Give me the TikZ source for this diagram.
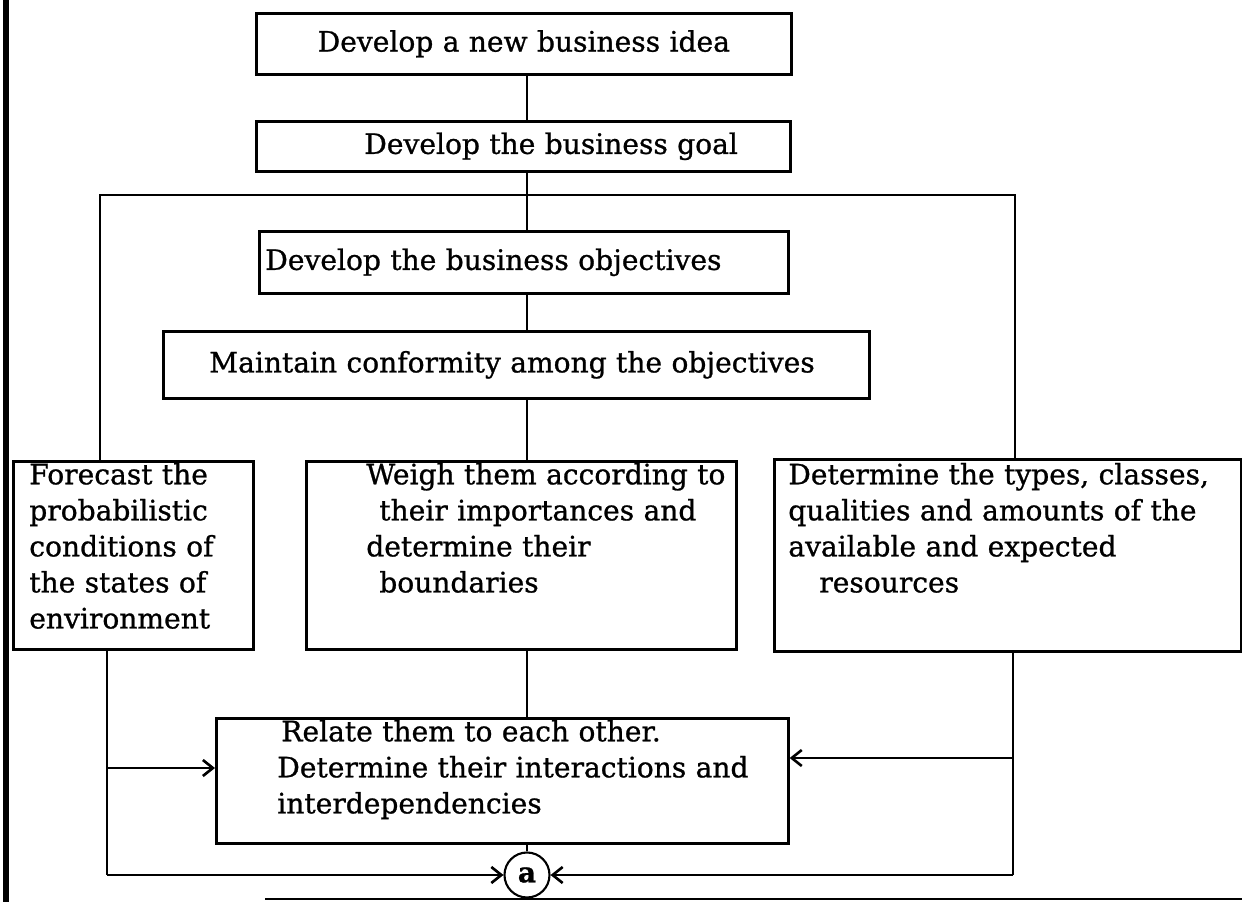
\documentclass[tikz,border=0pt]{standalone}
\usepackage{fontspec}
\setmainfont[FakeBold=0.9]{DejaVu Serif}
\usepackage{tikz}
\usetikzlibrary{arrows.meta}

\newcommand{\ind}[1]{\hspace*{#1}}

\begin{document}
\begin{tikzpicture}[
    box/.style={rectangle, draw, line width=1.5pt, anchor=north west, align=left,
                inner xsep=0.12cm, inner ysep=0.1cm, font=\fontsize{16pt}{20.5pt}\selectfont},
    tallbox/.style={box, text height=0.36cm},
    arr/.style={-{Straight Barb[length=2mm, width=3.2mm]}, line width=1.5pt},
    wire/.style={line width=1.5pt}
  ]
    \useasboundingbox (0,0) rectangle (24.84,-18.04);

    \node[box, minimum width=10.7cm, minimum height=1.22cm, text width=10.46cm, align=center]
        (idea) at (5.10,-0.24) {Develop a new business idea};
    \node[box, minimum width=10.68cm, minimum height=1.0cm, text width=10.44cm]
        (goal) at (5.10,-2.40) {\ind{2.04cm}Develop the business goal};
    \node[box, minimum width=10.58cm, minimum height=1.24cm, text width=10.34cm]
        (objectives) at (5.16,-4.60) {Develop the business objectives};
    \node[box, minimum width=14.12cm, minimum height=1.34cm, text width=13.88cm]
        (conform) at (3.24,-6.60) {\ind{0.8cm}Maintain conformity among the objectives};

    \node[tallbox, minimum width=4.8cm, text width=4.56cm, text depth=3.2cm]
        (forecast) at (0.24,-9.20) {\ind{0.2cm}Forecast the\\ \ind{0.2cm}probabilistic\\ \ind{0.2cm}conditions of\\ \ind{0.2cm}the states of\\ \ind{0.2cm}environment};
    \node[tallbox, minimum width=8.6cm, text width=8.36cm, text depth=3.2cm]
        (weigh) at (6.10,-9.20) {\ind{1.08cm}Weigh them according to\\ \ind{1.34cm}their importances and\\ \ind{1.08cm}determine their\\ \ind{1.34cm}boundaries};
    \node[tallbox, minimum width=9.34cm, text width=9.1cm, text height=0.4cm, text depth=3.24cm]
        (resources) at (15.46,-9.16) {\ind{0.16cm}Determine the types, classes,\\ \ind{0.16cm}qualities and amounts of the\\ \ind{0.16cm}available and expected\\ \ind{0.78cm}resources};

    \node[tallbox, minimum width=11.44cm, text width=11.2cm, text depth=1.94cm]
        (relate) at (4.30,-14.34) {\ind{1.18cm}Relate them to each other.\\ \ind{1.1cm}Determine their interactions and\\ \ind{1.1cm}interdependencies};

    \node[circle, draw, line width=1.2pt, minimum size=0.9cm, inner sep=0pt,
          font=\fontsize{16pt}{18pt}\selectfont\bfseries] (a) at (10.54,-17.5) {a};

    \coordinate (trunk) at (10.54,0);
    \coordinate (frameL) at (2.0,-3.9);
    \coordinate (frameR) at (20.3,-3.9);
    \coordinate (lmid) at (2.14,-15.36);
    \coordinate (lfoot) at (2.14,-17.5);
    \coordinate (rmid) at (20.26,-15.16);
    \coordinate (rfoot) at (20.26,-17.5);

    \draw[wire] (idea.south -| trunk) -- (goal.north -| trunk);
    \draw[wire] (goal.south -| trunk) -- (objectives.north -| trunk);
    \draw[wire] (objectives.south -| trunk) -- (conform.north -| trunk);
    \draw[wire] (conform.south -| trunk) -- (weigh.north -| trunk);
    \draw[wire] (weigh.south -| trunk) -- (relate.north -| trunk);
    \draw[wire] (relate.south -| trunk) -- (a.north);

    \draw[wire] (forecast.north -| frameL) -- (frameL) -- (frameR) -- (resources.north -| frameR);

    \draw[wire] (forecast.south -| lfoot) -- (lfoot);
    \draw[arr] (lfoot) -- (a.west);
    \draw[arr] (lmid) -- (lmid -| relate.west);
    \draw[wire] (resources.south -| rfoot) -- (rfoot);
    \draw[arr] (rfoot) -- (a.east);
    \draw[arr] (rmid) -- (rmid -| relate.east);

    \draw[line width=3pt] (0.12,0) -- (0.12,-18.04);
    \draw[wire] (5.3,-17.98) -- (24.84,-17.98);
  \end{tikzpicture}
\end{document}
